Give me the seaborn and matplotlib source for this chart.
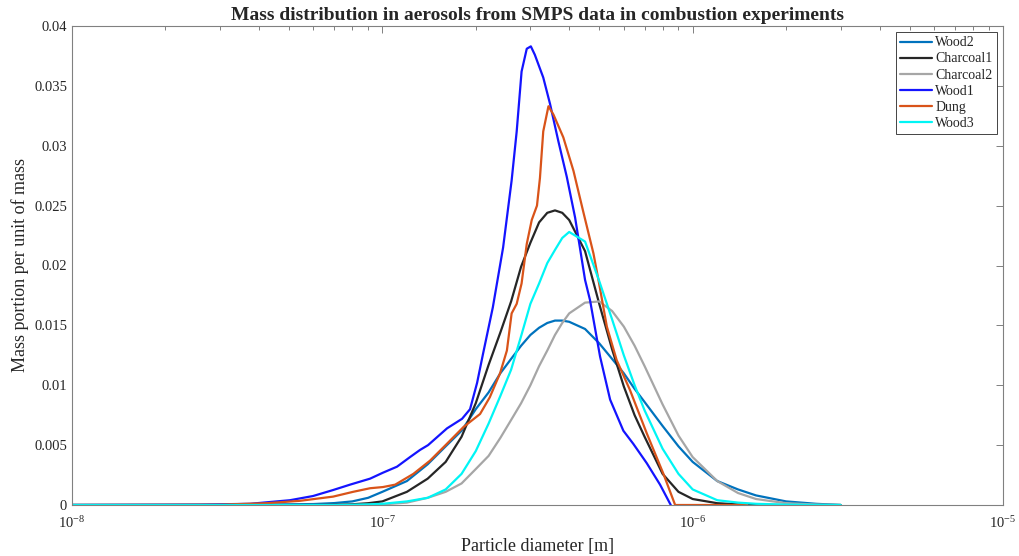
import numpy as np
import pandas as pd
import seaborn as sns
import matplotlib.pyplot as plt
from matplotlib.ticker import LogLocator, FuncFormatter, LogFormatterMathtext, NullFormatter, MultipleLocator

# SMPS mass distributions, diameters in metres

# fitted curves share one diameter grid
d_fit = [1e-8, 2e-8, 3e-8, 4e-8, 5e-8, 6e-8, 7e-8, 8e-8, 9e-8,
         1.0e-7, 1.2e-7, 1.4e-7, 1.6e-7, 1.8e-7, 2.0e-7, 2.2e-7, 2.4e-7, 2.6e-7, 2.8e-7,
         3.0e-7, 3.2e-7, 3.4e-7, 3.6e-7, 3.8e-7, 4.0e-7, 4.5e-7, 5.0e-7, 5.5e-7, 6.0e-7,
         6.5e-7, 7.0e-7, 8.0e-7, 9.0e-7, 1.0e-6, 1.2e-6, 1.4e-6, 1.6e-6, 2.0e-6, 2.5e-6, 3.0e-6]

wood2 = [0, 0, 0.00001, 0.00003, 0.00006, 0.00008, 0.00016, 0.0003, 0.0006,
         0.0011, 0.0020, 0.0034, 0.0049, 0.0062, 0.0080, 0.0094, 0.0110, 0.0122, 0.0133,
         0.0142, 0.0148, 0.0152, 0.0154, 0.0154, 0.0153, 0.0147, 0.0135, 0.0122, 0.0110,
         0.0097, 0.0086, 0.0066, 0.0049, 0.0036, 0.0020, 0.0013, 0.0008, 0.0003, 0.0001, 0]

charcoal1 = [0, 0, 0, 0, 0, 0, 0.00002, 0.00006, 0.00015,
             0.0003, 0.0011, 0.0022, 0.0036, 0.0057, 0.0085, 0.0117, 0.0144, 0.0170, 0.0199,
             0.0219, 0.0236, 0.0244, 0.0246, 0.0244, 0.0238, 0.0212, 0.0168, 0.0130, 0.0099,
             0.0075, 0.0057, 0.0026, 0.0011, 0.0005, 0.00015, 0.00005, 0.00002, 0, 0, 0]

charcoal2 = [0, 0, 0, 0, 0, 0, 0, 0, 0.00002,
             0.00005, 0.0002, 0.0006, 0.0011, 0.0018, 0.0030, 0.0041, 0.0056, 0.0071, 0.0085,
             0.0100, 0.0116, 0.0129, 0.0142, 0.0152, 0.0160, 0.0169, 0.0170, 0.0162, 0.0149,
             0.0133, 0.0116, 0.0084, 0.0058, 0.0040, 0.0020, 0.0010, 0.0005, 0.00015, 0.00004, 0]

wood3 = [0, 0, 0, 0, 0, 0, 0, 0.00002, 0.00005,
         0.0001, 0.0003, 0.0006, 0.0013, 0.0026, 0.0045, 0.0068, 0.0091, 0.0113, 0.0141,
         0.0168, 0.0185, 0.0202, 0.0213, 0.0223, 0.0228, 0.0220, 0.0187, 0.0155, 0.0125,
         0.0100, 0.0079, 0.0047, 0.0026, 0.0013, 0.0004, 0.0002, 0.0001, 0.00003, 0.00001, 0]

# measured curves
d_wood1 = [1e-8, 2.58e-8, 3.75e-8, 5.04e-8, 5.98e-8, 6.94e-8, 7.87e-8, 9.13e-8, 1.005e-7,
           1.115e-7, 1.228e-7, 1.323e-7, 1.404e-7, 1.616e-7, 1.807e-7, 1.917e-7, 2.02e-7,
           2.11e-7, 2.27e-7, 2.45e-7, 2.61e-7, 2.71e-7, 2.81e-7, 2.92e-7, 3.01e-7, 3.10e-7,
           3.30e-7, 3.47e-7, 3.69e-7, 3.93e-7, 4.18e-7, 4.50e-7, 4.67e-7, 5.03e-7, 5.42e-7,
           5.98e-7, 6.44e-7, 7.11e-7, 7.85e-7, 8.50e-7]
wood1 = [0, 0.00003, 0.0001, 0.0004, 0.00075, 0.00125, 0.0017, 0.0022, 0.0027,
         0.0032, 0.0040, 0.0046, 0.0050, 0.0064, 0.0072, 0.0080, 0.0102,
         0.0126, 0.0165, 0.0215, 0.0271, 0.0312, 0.0362, 0.0381, 0.0383, 0.0376,
         0.0357, 0.0335, 0.0304, 0.0274, 0.0240, 0.0188, 0.0171, 0.0124, 0.0088,
         0.0062, 0.0051, 0.0035, 0.0017, 0]

d_dung = [1e-8, 3e-8, 4.24e-8, 5.43e-8, 6.94e-8, 8.05e-8, 9.13e-8, 1.005e-7, 1.10e-7,
          1.259e-7, 1.424e-7, 1.613e-7, 1.824e-7, 2.065e-7, 2.22e-7, 2.395e-7, 2.52e-7,
          2.61e-7, 2.71e-7, 2.81e-7, 2.92e-7, 3.03e-7, 3.15e-7, 3.22e-7, 3.30e-7, 3.43e-7,
          3.56e-7, 3.83e-7, 4.13e-7, 4.44e-7, 4.79e-7, 4.97e-7, 5.29e-7, 5.69e-7, 6.28e-7,
          7.11e-7, 8.05e-7, 8.78e-7, 1.5e-6]
dung = [0, 0.00003, 0.00015, 0.00035, 0.0007, 0.0011, 0.0014, 0.0015, 0.0017,
        0.0026, 0.0037, 0.0051, 0.0065, 0.0076, 0.0090, 0.0110, 0.0129,
        0.0160, 0.0168, 0.0185, 0.0218, 0.0238, 0.0250, 0.0273, 0.0312, 0.0333,
        0.0326, 0.0307, 0.0279, 0.0245, 0.0210, 0.0188, 0.0149, 0.0121, 0.0096,
        0.0060, 0.0026, 0, 0]

samples = ['Wood2', 'Charcoal1', 'Charcoal2', 'Wood1', 'Dung', 'Wood3']
colors = ['#0072BD', '#262626', '#A6A6A6', '#1414FF', '#D95319', '#00F5F5']

parts = [
    pd.DataFrame({'d': d_fit, 'mass': wood2, 'sample': 'Wood2'}),
    pd.DataFrame({'d': d_fit, 'mass': charcoal1, 'sample': 'Charcoal1'}),
    pd.DataFrame({'d': d_fit, 'mass': charcoal2, 'sample': 'Charcoal2'}),
    pd.DataFrame({'d': d_wood1, 'mass': wood1, 'sample': 'Wood1'}),
    pd.DataFrame({'d': d_dung, 'mass': dung, 'sample': 'Dung'}),
    pd.DataFrame({'d': d_fit, 'mass': wood3, 'sample': 'Wood3'}),
]
df = pd.concat(parts, ignore_index=True)

sns.set_style('white')
plt.rcParams['font.family'] = ['Liberation Serif', 'DejaVu Serif']
plt.rcParams['mathtext.fontset'] = 'custom'
plt.rcParams['mathtext.rm'] = 'Liberation Serif'
plt.rcParams['mathtext.it'] = 'Liberation Serif:italic'

fig = plt.figure(figsize=(10.19, 5.56), dpi=100)
ax = fig.add_axes([72 / 1019, 51 / 556, 931 / 1019, 479 / 556])

sns.lineplot(data=df, x='d', y='mass', hue='sample', hue_order=samples,
             palette=colors, estimator=None, sort=True, linewidth=1.6, ax=ax)

ax.set_xscale('log')
ax.set_xlim(1e-8, 1e-5)
ax.set_ylim(0, 0.04)

ax.xaxis.set_major_locator(LogLocator(base=10, numticks=10))
ax.xaxis.set_minor_locator(LogLocator(base=10, subs=np.arange(2, 10), numticks=30))
ax.xaxis.set_major_formatter(LogFormatterMathtext())
ax.xaxis.set_minor_formatter(NullFormatter())
ax.yaxis.set_major_locator(MultipleLocator(0.005))
ax.yaxis.set_major_formatter(FuncFormatter(lambda v, p: f'{v:g}'))

ax.tick_params(which='both', direction='in', top=True, right=True,
               colors='#808080', labelcolor='#262626', labelsize=10.5, width=0.7)
ax.tick_params(axis='x', which='major', pad=7)
ax.tick_params(which='major', length=5)
ax.tick_params(which='minor', length=3)
for s in ax.spines.values():
    s.set_color('#808080')
    s.set_linewidth(0.8)

ax.set_xlabel('Particle diameter [m]', fontsize=13, color='#262626', labelpad=5)
ax.set_ylabel('Mass portion per unit of mass', fontsize=13, color='#262626', labelpad=4)
ax.set_title('Mass distribution in aerosols from SMPS data in combustion experiments',
             fontsize=14, fontweight='bold', pad=4)

handles, labels = ax.get_legend_handles_labels()
leg = ax.legend(handles, labels, loc='upper right', fontsize=10, frameon=True,
                fancybox=False, edgecolor='#262626', framealpha=1,
                handlelength=2.3, handletextpad=0.25, labelspacing=0.22,
                borderpad=0.3, borderaxespad=0.45)
leg.get_frame().set_linewidth(0.6)

plt.savefig('out.png', dpi=100)
